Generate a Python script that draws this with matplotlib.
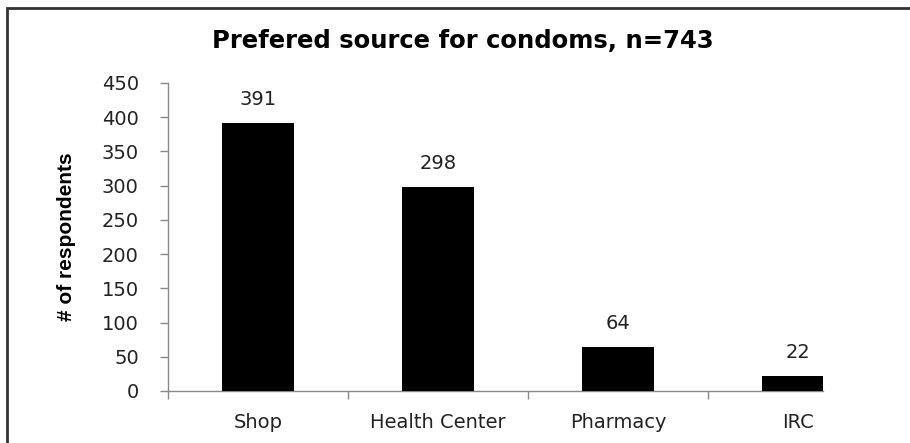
import matplotlib
matplotlib.use("Agg")
import matplotlib.pyplot as plt
from matplotlib.patches import Rectangle

categories = ["Shop", "Health Center", "Pharmacy", "IRC"]
counts = [391, 298, 64, 22]
y_ticks = [0, 50, 100, 150, 200, 250, 300, 350, 400, 450]
title = "Prefered source for condoms, n=743"
y_label = "# of respondents"

W, H = 910, 443
fig = plt.figure(figsize=(W / 100, H / 100), dpi=100)

# frame around the chart (open on the right and bottom edges)
fig.patches.append(Rectangle((7 / W, -0.05), 1.2, (H - 8) / H + 0.05,
                             transform=fig.transFigure, fill=False,
                             edgecolor="#333333", linewidth=2))

ax = fig.add_axes([168 / W, (H - 391) / H, (823 - 168) / W, (391 - 83) / H])
x = list(range(len(categories)))
ax.bar(x, counts, width=0.4, color="black", zorder=3)
for xi, v in zip(x, counts):
    ax.annotate(str(v), (xi, v), xytext=(0, 10), textcoords="offset points",
                ha="center", va="bottom", fontsize=14, color="#222222",
                family="DejaVu Sans")

ax.set_xlim(-0.5, 3.139)
ax.set_ylim(0, 450)
ax.set_yticks(y_ticks)
ax.tick_params(axis="y", direction="out", length=6, width=1, color="#888888",
               labelsize=14, labelcolor="#222222", pad=15)
ax.set_xticks([i - 0.5 for i in range(len(categories))], [""] * len(categories))
ax.set_xticks(x, categories, minor=True)
ax.tick_params(axis="x", which="major", direction="out", length=6, width=1,
               color="#888888")
ax.tick_params(axis="x", which="minor", length=0, labelsize=14,
               labelcolor="#222222", pad=16)
for s in ("top", "right"):
    ax.spines[s].set_visible(False)
for s in ("left", "bottom"):
    ax.spines[s].set_color("#888888")
    ax.spines[s].set_linewidth(1)

fig.text(66 / W, (H - 237) / H, y_label, rotation=90, ha="center", va="center",
         fontsize=15, fontweight="bold",
         family=["DejaVu Sans Condensed", "Liberation Sans", "DejaVu Sans"],
         color="black")
fig.text(463 / W, (H - 41) / H, title, ha="center", va="center",
         fontsize=17.5, fontweight="bold", family="DejaVu Sans", color="black")

fig.savefig("out.png", dpi=100)
